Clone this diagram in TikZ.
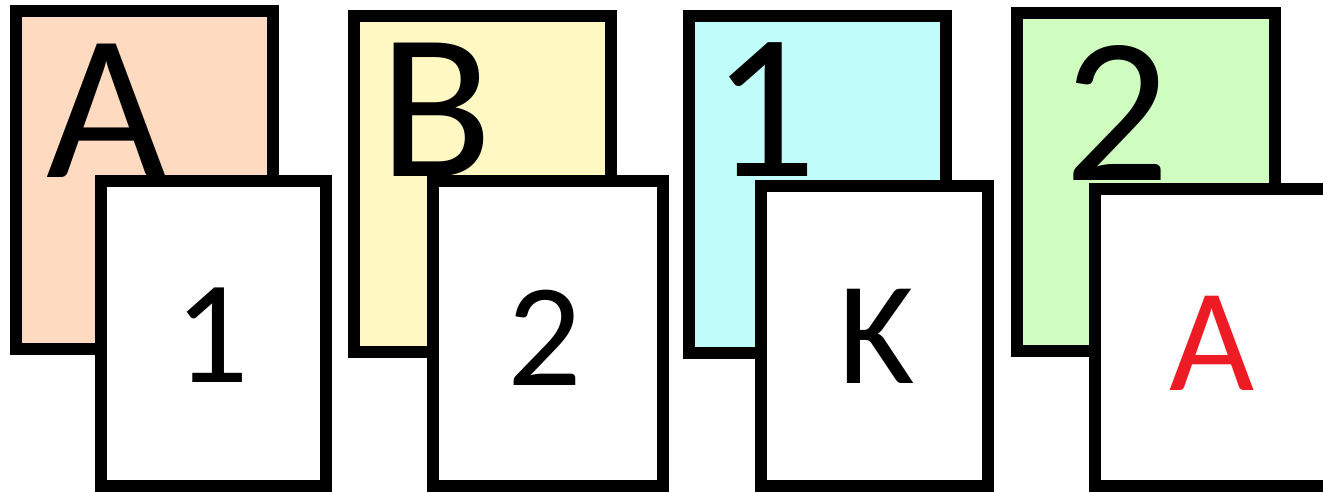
\documentclass[tikz,border=0pt]{standalone}
\usepackage{fontspec}
\setmainfont{Carlito}
\definecolor{peach}{HTML}{FEDAC0}
\definecolor{paleyellow}{HTML}{FFF8C3}
\definecolor{palecyan}{HTML}{C0FCFA}
\definecolor{palegreen}{HTML}{CFFDC0}
\definecolor{cardred}{HTML}{ED1C24}
\begin{document}
\begin{tikzpicture}[x=1pt,y=-1pt,
  card/.style={draw=black, line width=12pt, rectangle, inner sep=0pt, line join=miter},
  bigtxt/.style={anchor=base, inner sep=0pt, font=\fontsize{208}{208}\selectfont},
  smalltxt/.style={anchor=base, inner sep=0pt, font=\fontsize{147}{147}\selectfont}]
\useasboundingbox (0,0) rectangle (1323,492);
\fill[white] (0,0) rectangle (1323,492);
% back cards
\node[card, fill=peach, minimum width=257pt, minimum height=338pt] (b1) at (144.5,180) {};
\node[card, fill=paleyellow, minimum width=257pt, minimum height=336pt] (b2) at (482.5,184) {};
\node[card, fill=palecyan, minimum width=257pt, minimum height=337pt] (b3) at (817.5,184.5) {};
\node[card, fill=palegreen, minimum width=258pt, minimum height=338pt] (b4) at (1146,182) {};
% back labels
\node[bigtxt] (tb1) at (107,178) {A};
\node[bigtxt] (tb2) at (436,177) {B};
\node[bigtxt] (tb3) at (764,177) {1};
\node[bigtxt] (tb4) at (1117,180) {2};
% front cards
\node[card, fill=white, minimum width=225pt, minimum height=305pt] (f1) at (213.5,333.5) {};
\node[card, fill=white, minimum width=230pt, minimum height=305pt] (f2) at (548,333.5) {};
\node[card, fill=white, minimum width=227pt, minimum height=300pt] (f3) at (874.5,336) {};
\node[card, fill=white, minimum width=240pt, minimum height=297pt] (f4) at (1215,337.5) {};
% front labels
\node[smalltxt] (tf1) at (212,382) {1};
\node[smalltxt] (tf2) at (545,385) {2};
\node[smalltxt] (tf3) at (877,383) {K};
\node[smalltxt, text=cardred] (tf4) at (1212,390) {A};
\end{tikzpicture}
\end{document}
